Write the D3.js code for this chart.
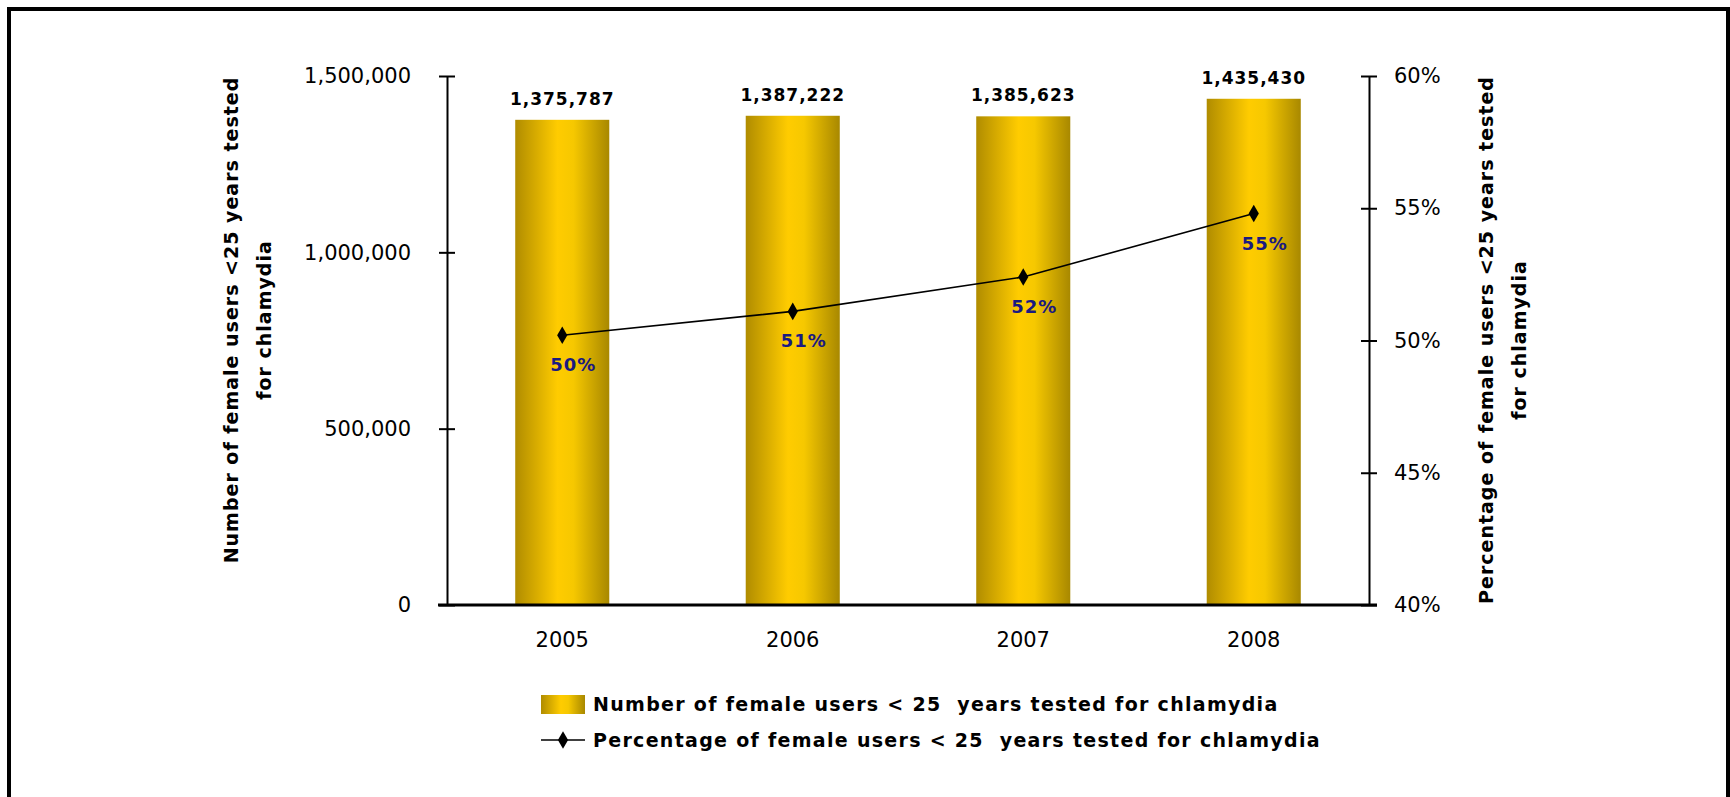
<!DOCTYPE html>
<html>
<head>
<meta charset="utf-8">
<script src="https://cdn.jsdelivr.net/npm/d3@7"></script>
<style>
  body { margin: 0; background: #fff; }
  .tick text { font-family: "DejaVu Sans", Verdana, sans-serif; font-size: 21px; fill: #000; }
  .bold { font-family: "DejaVu Sans", Verdana, sans-serif; font-weight: bold; }
</style>
</head>
<body>
<div id="chart"></div>
<script>
// values
var years = ["2005", "2006", "2007", "2008"];
var testedCounts = [1375787, 1387222, 1385623, 1435430];
var testedPct = [50.2, 51.1, 52.4, 54.8];
var pctLabels = ["50%", "51%", "52%", "55%"];
var countTicks = [0, 500000, 1000000, 1500000];
var pctTicks = [40, 45, 50, 55, 60];
var countTitle = ["Number of female users <25 years tested", "for chlamydia"];
var pctTitle = ["Percentage of female users <25 years tested", "for chlamydia"];
var legendLabels = ["Number of female users < 25  years tested for chlamydia",
                    "Percentage of female users < 25  years tested for chlamydia"];

var width = 1730, height = 797;
var plotLeft = 447, plotRight = 1369, plotTop = 76, plotBottom = 605;

var svg = d3.select("#chart").append("svg")
  .attr("width", width)
  .attr("height", height);

// gold cylinder look
var grad = svg.append("defs").append("linearGradient")
  .attr("id", "gold")
  .attr("x1", "0%").attr("x2", "100%").attr("y1", "0%").attr("y2", "0%");
grad.append("stop").attr("offset", "0%").attr("stop-color", "#b08c00");
grad.append("stop").attr("offset", "45%").attr("stop-color", "#ffcc00");
grad.append("stop").attr("offset", "62%").attr("stop-color", "#f6c800");
grad.append("stop").attr("offset", "100%").attr("stop-color", "#a88800");

// frame
svg.append("rect")
  .attr("x", 9).attr("y", 9)
  .attr("width", 1719).attr("height", 900)
  .attr("fill", "none")
  .attr("stroke", "#000")
  .attr("stroke-width", 4);

var x = d3.scaleBand().domain(years).range([plotLeft, plotRight])
  .paddingInner(0.592).paddingOuter(0.296);
var yCount = d3.scaleLinear().domain([0, 1500000]).range([plotBottom, plotTop]);
var yPct = d3.scaleLinear().domain([40, 60]).range([plotBottom, plotTop]);

// bars
svg.selectAll("rect.bar")
  .data(testedCounts)
  .enter().append("rect")
  .attr("class", "bar")
  .attr("x", function (d, i) { return x(years[i]); })
  .attr("y", function (d) { return yCount(d); })
  .attr("width", x.bandwidth())
  .attr("height", function (d) { return plotBottom - yCount(d); })
  .attr("fill", "url(#gold)");

svg.selectAll("text.barval")
  .data(testedCounts)
  .enter().append("text")
  .attr("class", "barval bold")
  .attr("x", function (d, i) { return x(years[i]) + x.bandwidth() / 2; })
  .attr("y", function (d) { return yCount(d) - 15; })
  .attr("text-anchor", "middle")
  .style("font-size", "17px")
  .style("letter-spacing", "1px")
  .text(function (d) { return d3.format(",")(d); });

// left axis
var axL = svg.append("g")
  .attr("transform", "translate(" + plotLeft + ",0)")
  .call(d3.axisLeft(yCount).tickValues(countTicks).tickFormat(d3.format(",")).tickSizeOuter(0).tickPadding(30));
axL.select(".domain").attr("stroke-width", 2);
axL.selectAll(".tick line").attr("x1", -8).attr("x2", 8).attr("stroke-width", 2);

// right axis
var axR = svg.append("g")
  .attr("transform", "translate(" + plotRight + ",0)")
  .call(d3.axisRight(yPct).tickValues(pctTicks).tickFormat(function (d) { return d + "%"; }).tickSizeOuter(0).tickPadding(19));
axR.select(".domain").attr("stroke-width", 2);
axR.selectAll(".tick line").attr("x1", -8).attr("x2", 8).attr("stroke-width", 2);

// bottom axis
var axB = svg.append("g")
  .attr("transform", "translate(0," + plotBottom + ")")
  .call(d3.axisBottom(x).tickSize(0).tickPadding(27));
axB.select(".domain").remove();
svg.append("line")
  .attr("x1", plotLeft - 9).attr("x2", plotRight + 8)
  .attr("y1", plotBottom).attr("y2", plotBottom)
  .attr("stroke", "#000").attr("stroke-width", 3);

// percentage line
var cx = function (i) { return x(years[i]) + x.bandwidth() / 2; };
var line = d3.line()
  .x(function (d, i) { return cx(i); })
  .y(function (d) { return yPct(d); });

svg.append("path")
  .datum(testedPct)
  .attr("d", line)
  .attr("fill", "none")
  .attr("stroke", "#000")
  .attr("stroke-width", 1.6);

var diamond = d3.symbol().type(d3.symbolDiamond).size(90);
svg.selectAll("path.pt")
  .data(testedPct)
  .enter().append("path")
  .attr("class", "pt")
  .attr("d", diamond)
  .attr("transform", function (d, i) { return "translate(" + cx(i) + "," + yPct(d) + ")"; })
  .attr("fill", "#000");

svg.selectAll("text.pctval")
  .data(testedPct)
  .enter().append("text")
  .attr("class", "pctval bold")
  .attr("x", function (d, i) { return cx(i) + 11; })
  .attr("y", function (d) { return yPct(d) + 36; })
  .attr("text-anchor", "middle")
  .style("font-size", "18px")
  .style("letter-spacing", "1px")
  .attr("fill", "#1a1a80")
  .text(function (d, i) { return pctLabels[i]; });

// axis titles
var titleL = svg.append("text")
  .attr("class", "bold")
  .attr("transform", "translate(238,320) rotate(-90)")
  .attr("text-anchor", "middle")
  .style("font-size", "19px")
  .style("letter-spacing", "1px");
titleL.selectAll("tspan").data(countTitle).enter().append("tspan")
  .attr("x", 0).attr("dy", function (d, i) { return i ? 33 : 0; })
  .text(function (d) { return d; });

var titleR = svg.append("text")
  .attr("class", "bold")
  .attr("transform", "translate(1493,340) rotate(-90)")
  .attr("text-anchor", "middle")
  .style("font-size", "19px")
  .style("letter-spacing", "1px");
titleR.selectAll("tspan").data(pctTitle).enter().append("tspan")
  .attr("x", 0).attr("dy", function (d, i) { return i ? 33 : 0; })
  .text(function (d) { return d; });

// legend
var leg = svg.append("g");
leg.append("rect")
  .attr("x", 541).attr("y", 695)
  .attr("width", 44).attr("height", 19)
  .attr("fill", "url(#gold)");
leg.append("line")
  .attr("x1", 541).attr("x2", 585)
  .attr("y1", 740).attr("y2", 740)
  .attr("stroke", "#000").attr("stroke-width", 1.6);
leg.append("path")
  .attr("d", diamond)
  .attr("transform", "translate(563,740)");
leg.selectAll("text")
  .data(legendLabels)
  .enter().append("text")
  .attr("class", "bold")
  .attr("x", 593)
  .attr("y", function (d, i) { return 704 + i * 36; })
  .attr("dy", "0.35em")
  .style("font-size", "19px")
  .style("letter-spacing", "1.3px")
  .style("white-space", "pre")
  .text(function (d) { return d; });
</script>
</body>
</html>
